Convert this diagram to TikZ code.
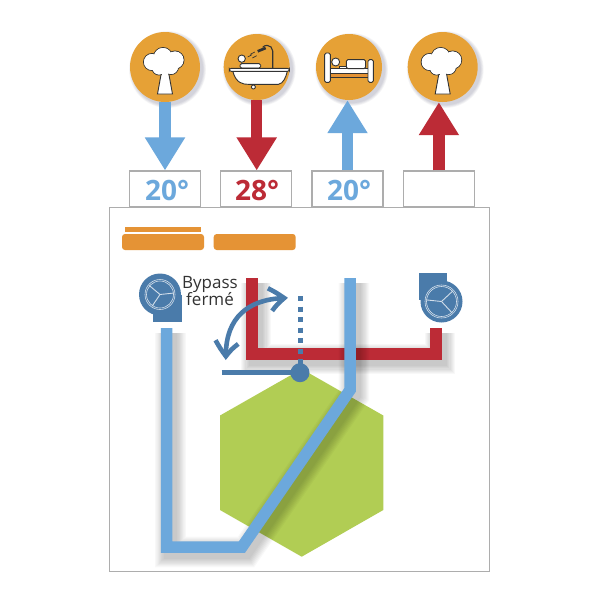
\documentclass[tikz,border=0pt]{standalone}
\usepackage{fontspec}
\setmainfont{Open Sans}
\usetikzlibrary{calc,arrows.meta,bending}
\definecolor{DiscOrange}{HTML}{E6A136}
\definecolor{BarOrange}{HTML}{E59335}
\definecolor{AirBlue}{HTML}{6CA8DC}
\definecolor{AirRed}{HTML}{BC2B36}
\definecolor{SteelBlue}{HTML}{4A7BAA}
\definecolor{CoreGreen}{HTML}{B1CD54}
\definecolor{FrameGray}{HTML}{ADADAD}
\definecolor{IconInk}{HTML}{333333}
\newcommand{\softshadow}[2]{%
  \foreach \g in {1,...,8}{\draw[black,opacity=0.028,line join=miter,line width=#1pt+\g*2.4pt,shift={(4,5)}] #2;}%
}
\tikzset{
  iconcircle/.style={circle,fill=DiscOrange,inner sep=0pt},
  tempbox/.style={draw=FrameGray,line width=1.1pt,fill=white,minimum width=71pt,minimum height=36pt,inner sep=0pt},
  temptext/.style={font=\fontsize{28}{28}\selectfont\bfseries},
  airflow/.style={line width=11.5pt,-{Triangle[length=33pt,width=38pt]}},
  orangebar/.style={fill=BarOrange,rounded corners=3pt},
  pipe/.style={line width=11.5pt,line join=miter},
  inkline/.style={draw=IconInk,line width=0.9pt,fill=white},
  treeicon/.pic={
    \draw[inkline] (-3.5,5) -- (-7.5,27) -- (7.5,27) -- (3.5,5) -- cycle;
    \foreach \cx/\cy/\cr in {-13/-5/8.5,-2/-10/9.5,10/-7/9,6/0/7.5,-6/1/7}
      \draw[inkline] (\cx,\cy) circle[radius=\cr];
    \foreach \cx/\cy/\cr in {-13/-5/8.5,-2/-10/9.5,10/-7/9,6/0/7.5,-6/1/7}
      \fill[white] (\cx,\cy) circle[radius=\cr-0.45];
    \fill[white] (-3,3) rectangle (3,8);
  },
  fanwheel/.style={circle,fill=SteelBlue,inner sep=0pt,minimum size=42pt}
}
\begin{document}
\begin{tikzpicture}[x=1pt,y=-1pt]
  \useasboundingbox[fill=white] (0,0) rectangle (600,600);

  % casing and the four sockets
  \draw[FrameGray,line width=1.2pt,fill=white] (109.5,207.5) rectangle (489.5,571.5);
  \node[tempbox] (box1) at (165.2,189) {};
  \node[tempbox] (box2) at (256.3,189) {};
  \node[tempbox] (box3) at (347.5,189) {};
  \node[tempbox] (box4) at (438.9,189) {};
  \node[temptext,text=AirBlue] (label1) at (167,190.5) {20°};
  \node[temptext,text=AirRed] (label2) at (257,190.5) {28°};
  \node[temptext,text=AirBlue] (label3) at (349,190.5) {20°};

  % icon discs
  \foreach \nm/\x/\d in {tree1/165/70,bath/256.7/66,bed/349/66,tree2/442.7/70}{
    \foreach \g in {1,...,5}
      \fill[black!80!blue,opacity=0.035] (\x+2.5,69.5) circle[radius=\d/2+\g*0.7];
    \node[iconcircle,minimum size=\d pt] (\nm) at (\x,67) {};
  }

  % block arrows
  \draw[airflow,AirBlue] (tree1.south) -- (tree1.south |- box1.north);
  \draw[airflow,AirRed] (bath.south) -- (bath.south |- box2.north);
  \draw[airflow,AirBlue] (box3.north) -- (box3.north |- bed.south);
  \draw[airflow,AirRed] (box4.north) -- (box4.north |- tree2.south);

  % icons
  \pic at (tree1) {treeicon};
  \pic at (tree2) {treeicon};
  \begin{scope}[shift={(bath)},x=0.3333pt,y=-0.3333pt]
    \draw[IconInk,line width=1.1pt] (48,5) -- (48,-48) arc[start angle=0,end angle=-140,radius=17];
    \fill[IconInk,rotate around={22:(15,-52)}] (2,-56) rectangle (28,-48);
    \foreach \a/\b in {-6/-45,-14/-37,0/-34}
      \draw[IconInk,line width=0.7pt] (\a,\b) -- (\a-13,\b+7);
    \draw[inkline] (-45,-25) circle[radius=11];
    \draw[inkline,rounded corners=1.5pt] (-50,-10) rectangle (12,3);
    \draw[inkline] (-72,12) .. controls (-62,50) and (-40,52) .. (-25,52) -- (65,52) .. controls (80,50) and (88,30) .. (92,12) -- cycle;
    \draw[inkline,rounded corners=2pt] (-82,4) rectangle (98,13);
    \draw[inkline] (-10,60) circle[radius=6];
  \end{scope}
  \begin{scope}[shift={(bed)},x=0.3333pt,y=-0.3333pt]
    \draw[IconInk,line width=1pt,fill=BarOrange] (-56,20) rectangle (57,32);
    \draw[inkline] (-56,5) rectangle (57,20);
    \draw[inkline,rounded corners=1.5pt] (-8,-22) rectangle (50,5);
    \draw[inkline] (-40,-15) circle[radius=12];
    \draw[inkline] (-30,-2) rectangle (-8,5);
    \draw[inkline,rounded corners=1.5pt] (-73,-42) rectangle (-56,46);
    \draw[inkline,rounded corners=1.5pt] (57,-22) rectangle (73,46);
  \end{scope}

  % orange bars
  \fill[BarOrange] (125,227) rectangle (201,231.7);
  \node[orangebar,minimum width=82pt,minimum height=16pt,inner sep=0pt] (bar1) at (163,242) {};
  \node[orangebar,minimum width=82pt,minimum height=16pt,inner sep=0pt] (bar2) at (254.7,242) {};

  % exchanger core
  \fill[CoreGreen] (301.7,369) -- (383.3,415.5) -- (383.3,510) -- (301.7,556.7) -- (220,510) -- (220,415.5) -- cycle;

  % warm duct
  \softshadow{11.5}{(252,278) -- (252,354) -- (436,354) -- (436,328)}
  \draw[pipe,AirRed] (252,278) -- (252,354) -- (436,354) -- (436,328);

  % bypass flap
  \draw[SteelBlue,line width=5pt,dash pattern=on 5pt off 5.5pt] (300.3,296) -- (300.3,366);
  \draw[SteelBlue,line width=4.6pt] (221.7,372.7) -- (300,372.7);
  \node[circle,fill=SteelBlue,minimum size=19pt,inner sep=0pt] (flap) at (300,372.7) {};
  \coordinate (swingA) at (288,298);
  \coordinate (swingB) at (226,360);
  \draw[SteelBlue,line width=4.6pt,{Straight Barb[length=15pt,width=23pt,bend]}-{Straight Barb[length=15pt,width=23pt,bend]}] (swingA) .. controls (248,298) and (224,318) .. (swingB);

  % cold duct
  \softshadow{11.5}{(166.5,328) -- (166.5,547) -- (242,547) -- (350,390) -- (350,278)}
  \draw[pipe,AirBlue] (166.5,328) -- (166.5,547) -- (242,547) -- (350,390) -- (350,278);

  % fans
  \fill[SteelBlue] (153,295) rectangle (181.7,321.7);
  \node[fanwheel] (fan1) at (160,294.5) {};
  \draw[white!75!SteelBlue,line width=0.6pt] (fan1.center) circle[radius=15];
  \draw[white!75!SteelBlue,line width=0.6pt] (fan1.center) circle[radius=13.5];
  \foreach \a in {-6,124,220}
    \draw[white!75!SteelBlue,line width=0.9pt] (fan1.center) -- ++(\a:14);
  \fill[SteelBlue] (419.3,273) rectangle (447,300);
  \node[fanwheel] (fan2) at (441.5,301.5) {};
  \draw[white!75!SteelBlue,line width=0.6pt] (fan2.center) circle[radius=16.5];
  \draw[white!75!SteelBlue,line width=0.6pt] (fan2.center) circle[radius=15];
  \foreach \a in {-43,47,186}
    \draw[white!75!SteelBlue,line width=0.9pt] (fan2.center) -- ++(\a:15.5);

  \node[align=center,text=IconInk,font=\fontsize{17}{17.5}\selectfont,inner sep=0pt] (bypasslabel) at (210,291) {Bypass\\fermé};
\end{tikzpicture}
\end{document}
